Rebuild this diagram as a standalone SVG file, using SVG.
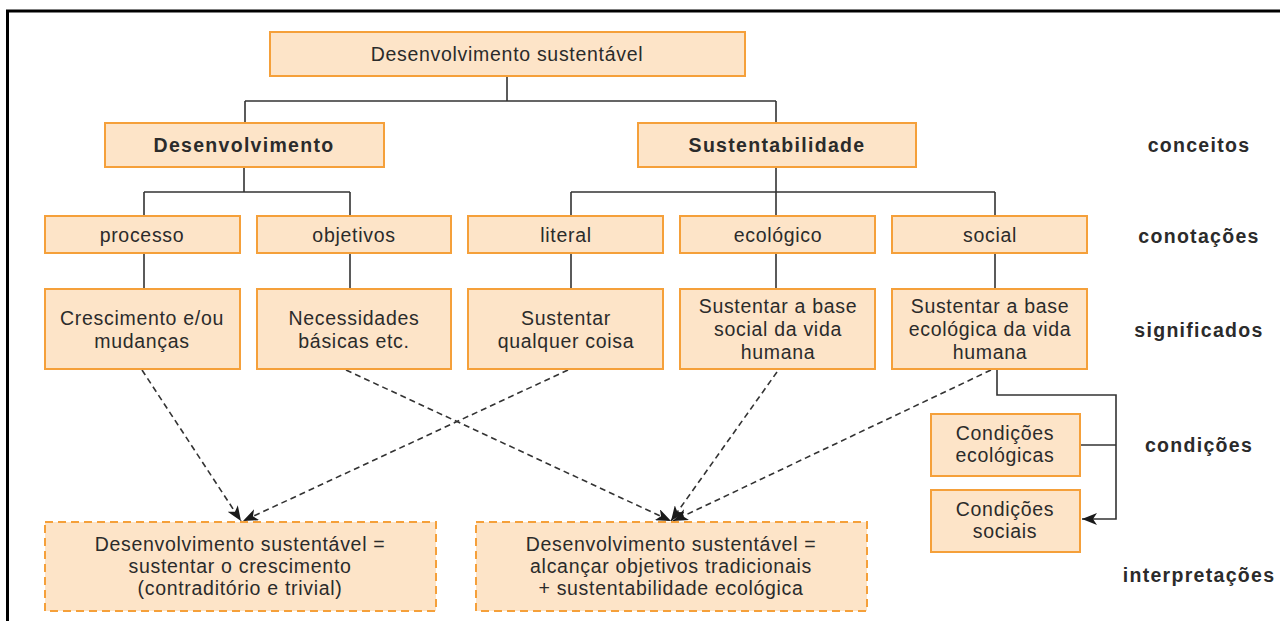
<svg xmlns="http://www.w3.org/2000/svg" width="1280" height="621" viewBox="0 0 1280 621">
<defs>
<style>
.box{fill:#fde4c8;stroke:#f5a03a;stroke-width:2}
.dbox{fill:#fde4c8;stroke:#f5a03a;stroke-width:2;stroke-dasharray:8 5}
.t{font-family:"Liberation Sans",Arial,sans-serif;font-size:19.5px;letter-spacing:0.7px;fill:#2b2b2b;text-anchor:middle}
.b{font-weight:bold;letter-spacing:1.3px}
.lab{font-family:"Liberation Sans",Arial,sans-serif;font-size:19.5px;letter-spacing:1.3px;font-weight:bold;fill:#2b2b2b;text-anchor:middle}
.ln{fill:none;stroke:#333;stroke-width:1.6}
.dl{fill:none;stroke:#333;stroke-width:1.6;stroke-dasharray:6 4}
</style>
<marker id="ah" viewBox="0 0 15 12" refX="15" refY="6" markerWidth="15" markerHeight="12" markerUnits="userSpaceOnUse" orient="auto">
<path d="M0,0 L15,6 L0,12 L4,6 Z" fill="#1a1a1a"/>
</marker>
</defs>
<rect width="1280" height="621" fill="#fff"/>
<path d="M7.5,621 V11 H1280" fill="none" stroke="#000" stroke-width="3"/>

<g id="connectors">
<path class="ln" d="M507,76 V101 M245,101 H776 M245,101 V123 M776,101 V123"/>
<path class="ln" d="M244,167 V192 M144,192 H350 M144,192 V216 M350,192 V216"/>
<path class="ln" d="M776,167 V216 M571,192 H995 M571,192 V216 M995,192 V216"/>
<path class="ln" d="M144,253 V289 M350,253 V289 M571,253 V289 M776,253 V289 M995,253 V289"/>
<path class="ln" d="M997,369 V395 H1116 V519 H1082" marker-end="url(#ah)"/>
<path class="ln" d="M1080,445 H1116"/>
<path class="dl" d="M142,370 L241,521" marker-end="url(#ah)"/>
<path class="dl" d="M568,370 L243,521" marker-end="url(#ah)"/>
<path class="dl" d="M346,370 L671,521" marker-end="url(#ah)"/>
<path class="dl" d="M777,372 L671,521" marker-end="url(#ah)"/>
<path class="dl" d="M991,370 L673,521" marker-end="url(#ah)"/>
</g>

<g id="n-top"><rect class="box" x="270" y="32" width="475" height="44"/><text class="t" x="507" y="61">Desenvolvimento sustentável</text></g>
<g id="n-desenvolvimento"><rect class="box" x="105" y="123" width="279" height="44"/><text class="t b" x="244" y="152">Desenvolvimento</text></g>
<g id="n-sustentabilidade"><rect class="box" x="638" y="123" width="278" height="44"/><text class="t b" x="777" y="152">Sustentabilidade</text></g>

<g id="n-processo"><rect class="box" x="45" y="216" width="195" height="37"/><text class="t" x="142" y="242">processo</text></g>
<g id="n-objetivos"><rect class="box" x="257" y="216" width="194" height="37"/><text class="t" x="354" y="242">objetivos</text></g>
<g id="n-literal"><rect class="box" x="468" y="216" width="195" height="37"/><text class="t" x="566" y="242">literal</text></g>
<g id="n-ecologico"><rect class="box" x="680" y="216" width="195" height="37"/><text class="t" x="778" y="242">ecológico</text></g>
<g id="n-social"><rect class="box" x="892" y="216" width="195" height="37"/><text class="t" x="990" y="242">social</text></g>

<g id="n-crescimento"><rect class="box" x="45" y="289" width="195" height="80"/><text class="t" x="142" y="325">Crescimento e/ou</text><text class="t" x="142" y="348">mudanças</text></g>
<g id="n-necessidades"><rect class="box" x="257" y="289" width="194" height="80"/><text class="t" x="354" y="325">Necessidades</text><text class="t" x="354" y="348">básicas etc.</text></g>
<g id="n-sustentar"><rect class="box" x="468" y="289" width="195" height="80"/><text class="t" x="566" y="325">Sustentar</text><text class="t" x="566" y="348">qualquer coisa</text></g>
<g id="n-base-social"><rect class="box" x="680" y="289" width="195" height="80"/><text class="t" x="778" y="313">Sustentar a base</text><text class="t" x="778" y="336">social da vida</text><text class="t" x="778" y="359">humana</text></g>
<g id="n-base-ecologica"><rect class="box" x="892" y="289" width="195" height="80"/><text class="t" x="990" y="313">Sustentar a base</text><text class="t" x="990" y="336">ecológica da vida</text><text class="t" x="990" y="359">humana</text></g>

<g id="n-cond-eco"><rect class="box" x="931" y="414" width="149" height="62"/><text class="t" x="1005" y="440">Condições</text><text class="t" x="1005" y="462">ecológicas</text></g>
<g id="n-cond-soc"><rect class="box" x="931" y="490" width="149" height="62"/><text class="t" x="1005" y="516">Condições</text><text class="t" x="1005" y="538">sociais</text></g>

<g id="n-interp1"><rect class="dbox" x="45" y="522" width="391" height="89"/><text class="t" x="240" y="551">Desenvolvimento sustentável =</text><text class="t" x="240" y="573">sustentar o crescimento</text><text class="t" x="240" y="595">(contraditório e trivial)</text></g>
<g id="n-interp2"><rect class="dbox" x="476" y="522" width="391" height="89"/><text class="t" x="671" y="551">Desenvolvimento sustentável =</text><text class="t" x="671" y="573">alcançar objetivos tradicionais</text><text class="t" x="671" y="595">+ sustentabilidade ecológica</text></g>

<g id="labels">
<text class="lab" x="1199" y="152">conceitos</text>
<text class="lab" x="1199" y="243">conotações</text>
<text class="lab" x="1199" y="337">significados</text>
<text class="lab" x="1199" y="452">condições</text>
<text class="lab" x="1199" y="582">interpretações</text>
</g>
</svg>
